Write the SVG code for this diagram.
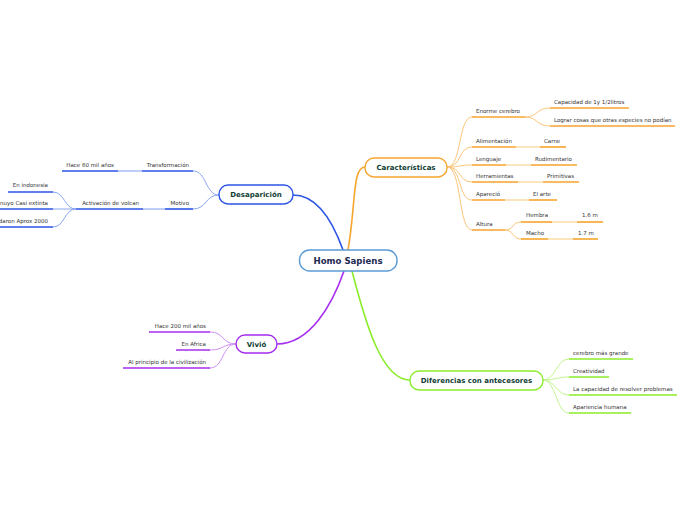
<svg xmlns="http://www.w3.org/2000/svg" width="696" height="520" viewBox="0 0 696 520">
<style>
.t{font-family:"DejaVu Sans",Verdana,sans-serif;font-size:5.5px;fill:#333}
.e{text-anchor:end}
.n{font-family:"DejaVu Sans",Verdana,sans-serif;font-weight:bold;font-size:7px;fill:#0f3d33;text-anchor:middle}
.o{stroke:#f7a52e;fill:none;stroke-width:1.6}
.of{stroke:#fcdcaa;fill:none;stroke-width:1.6}
.oc{stroke:#fbc57a;fill:none;stroke-width:1}
.b{stroke:#2c55e6;fill:none;stroke-width:1.6}
.bf{stroke:#a9bdf5;fill:none;stroke-width:1.6}
.bc{stroke:#8aa5f2;fill:none;stroke-width:1}
.p{stroke:#a62df0;fill:none;stroke-width:1.6}
.pc{stroke:#cf8ff7;fill:none;stroke-width:1}
.g{stroke:#8aec2a;fill:none;stroke-width:1.6}
.gc{stroke:#c2f48f;fill:none;stroke-width:1}
</style>
<rect width="696" height="520" fill="#fff"/>
<g id="connectors">
<path class="b" d="M343,250 C333,222 318,195 293,195"/>
<path class="o" d="M348,250 C356,205 352,167 365,167"/>
<path class="p" d="M344,271 C332,305 310,344 277,344"/>
<path class="g" d="M352,271 C366,325 382,380 410,380"/>
<path class="oc" d="M447,167 C462,167 458,117 472,117"/>
<path class="oc" d="M447,167 C462,167 458,147 472,147"/>
<path class="oc" d="M447,167 C462,167 458,165 472,165"/>
<path class="oc" d="M447,167 C462,167 458,182 472,182"/>
<path class="oc" d="M447,167 C462,167 458,200 472,200"/>
<path class="oc" d="M447,167 C462,167 458,230 472,230"/>
<path class="oc" d="M525,117 C538,117 536,108 550,108"/>
<path class="oc" d="M525,117 C538,117 536,126 550,126"/>
<path class="oc" d="M505,230 C514,230 512,222 521,222"/>
<path class="oc" d="M505,230 C514,230 512,239 521,239"/>
<path class="of" d="M516,147 H540 M506,165 H531 M518,182 H543 M505,200 H529 M552,222 H577 M548,239 H573"/>
<path class="bc" d="M219,195 C205,195 207,171 193,171"/>
<path class="bc" d="M219,195 C205,195 207,209 193,209"/>
<path class="bf" d="M118,171 H142 M143,209 H165"/>
<path class="bc" d="M76,209 C64,209 65,192 53,192"/>
<path class="bc" d="M76,209 H53"/>
<path class="bc" d="M76,209 C64,209 65,227 53,227"/>
<path class="pc" d="M236,344 C222,344 224,332 210,332"/>
<path class="pc" d="M236,344 C222,344 224,350 210,350"/>
<path class="pc" d="M236,344 C222,344 224,368 210,368"/>
<path class="gc" d="M543,380 C556,380 556,359 569,359"/>
<path class="gc" d="M543,380 C556,380 556,377 569,377"/>
<path class="gc" d="M543,380 C556,380 556,395 569,395"/>
<path class="gc" d="M543,380 C556,380 556,413 569,413"/>
</g>
<g id="homo-sapiens">
<rect x="299.5" y="250" width="97.5" height="21" rx="10" fill="#fff" stroke="#5b9bd5" stroke-width="1.4"/>
<text class="n" x="348" y="263.5" style="font-size:8.6px;fill:#1e2a52">Homo Sapiens</text>
</g>
<g id="caracteristicas">
<rect x="365" y="158" width="82" height="19" rx="9" fill="#fff" stroke="#f7a52e" stroke-width="1.4"/>
<text class="n" x="406" y="170">Características</text>
</g>
<g id="desaparicion">
<rect x="219" y="185" width="74" height="19" rx="9" fill="#fff" stroke="#2c55e6" stroke-width="1.4"/>
<text class="n" x="256" y="197">Desaparición</text>
</g>
<g id="vivio">
<rect x="236" y="335" width="41" height="18" rx="9" fill="#fff" stroke="#a62df0" stroke-width="1.4"/>
<text class="n" x="256.5" y="346.5">Vivió</text>
</g>
<g id="diferencias">
<rect x="410" y="371" width="133" height="19" rx="9" fill="#fff" stroke="#8aec2a" stroke-width="1.4"/>
<text class="n" x="476.5" y="383">Diferencias con antecesores</text>
</g>
<g id="enorme-cerebro"><path class="o" d="M472,117 H525"/><text class="t" x="476" y="113">Enorme cerebro</text></g>
<g id="capacidad"><path class="o" d="M550,108 H629"/><text class="t" x="554" y="104">Capacidad de 1y 1/2litros</text></g>
<g id="lograr"><path class="o" d="M550,126 H675"/><text class="t" x="554" y="122">Lograr cosas que otras especies no podían</text></g>
<g id="alimentacion"><path class="o" d="M472,147 H516"/><text class="t" x="476" y="143">Alimentación</text></g>
<g id="carne"><path class="o" d="M540,147 H566"/><text class="t" x="544" y="143">Carne</text></g>
<g id="lenguaje"><path class="o" d="M472,165 H506"/><text class="t" x="476" y="161">Lenguaje</text></g>
<g id="rudimentario"><path class="o" d="M531,165 H577"/><text class="t" x="535" y="161">Rudimentario</text></g>
<g id="herramientas"><path class="o" d="M472,182 H518"/><text class="t" x="476" y="178">Herramientas</text></g>
<g id="primitivas"><path class="o" d="M543,182 H579"/><text class="t" x="547" y="178">Primitivas</text></g>
<g id="aparecio"><path class="o" d="M472,200 H505"/><text class="t" x="476" y="196">Apareció</text></g>
<g id="el-arte"><path class="o" d="M529,200 H557"/><text class="t" x="533" y="196">El arte</text></g>
<g id="altura"><path class="o" d="M472,230 H505"/><text class="t" x="476" y="226">Altura</text></g>
<g id="hembra"><path class="o" d="M521,222 H552"/><text class="t" x="526" y="217">Hembra</text></g>
<g id="h16"><path class="o" d="M577,222 H603"/><text class="t" x="582" y="217">1.6 m</text></g>
<g id="macho"><path class="o" d="M521,239 H548"/><text class="t" x="526" y="235">Macho</text></g>
<g id="m17"><path class="o" d="M573,239 H598"/><text class="t" x="578" y="235">1.7 m</text></g>
<g id="transformacion"><path class="b" d="M142,171 H193"/><text class="t e" x="189" y="167">Transformación</text></g>
<g id="hace60"><path class="b" d="M62,171 H118"/><text class="t e" x="114" y="167">Hace 60 mil años</text></g>
<g id="motivo"><path class="b" d="M165,209 H193"/><text class="t e" x="189" y="205">Motivo</text></g>
<g id="activacion"><path class="b" d="M76,209 H143"/><text class="t e" x="139" y="205">Activación de volcan</text></g>
<g id="indonesia"><path class="b" d="M8,192 H53"/><text class="t e" x="48" y="187">En indonesia</text></g>
<g id="extinta"><path class="b" d="M0,209 H53"/><text class="t e" x="48" y="205">nuyo Casi extinta</text></g>
<g id="aprox"><path class="b" d="M0,227 H53"/><text class="t e" x="48" y="223">daron Aprox 2000</text></g>
<g id="hace200"><path class="p" d="M149,332 H210"/><text class="t e" x="206" y="328">Hace 200 mil años</text></g>
<g id="africa"><path class="p" d="M176,350 H210"/><text class="t e" x="206" y="346">En Africa</text></g>
<g id="principio"><path class="p" d="M123,368 H210"/><text class="t e" x="206" y="364">Al principio de la civilización</text></g>
<g id="cerebro-grande"><path class="g" d="M569,359 H633"/><text class="t" x="573" y="355">cerebro más grande</text></g>
<g id="creatividad"><path class="g" d="M569,377 H609"/><text class="t" x="573" y="373">Creatividad</text></g>
<g id="capacidad-problemas"><path class="g" d="M569,395 H677"/><text class="t" x="573" y="391">La capacidad de resolver problemas</text></g>
<g id="apariencia"><path class="g" d="M569,413 H631"/><text class="t" x="573" y="409">Apariencia humana</text></g>
</svg>
